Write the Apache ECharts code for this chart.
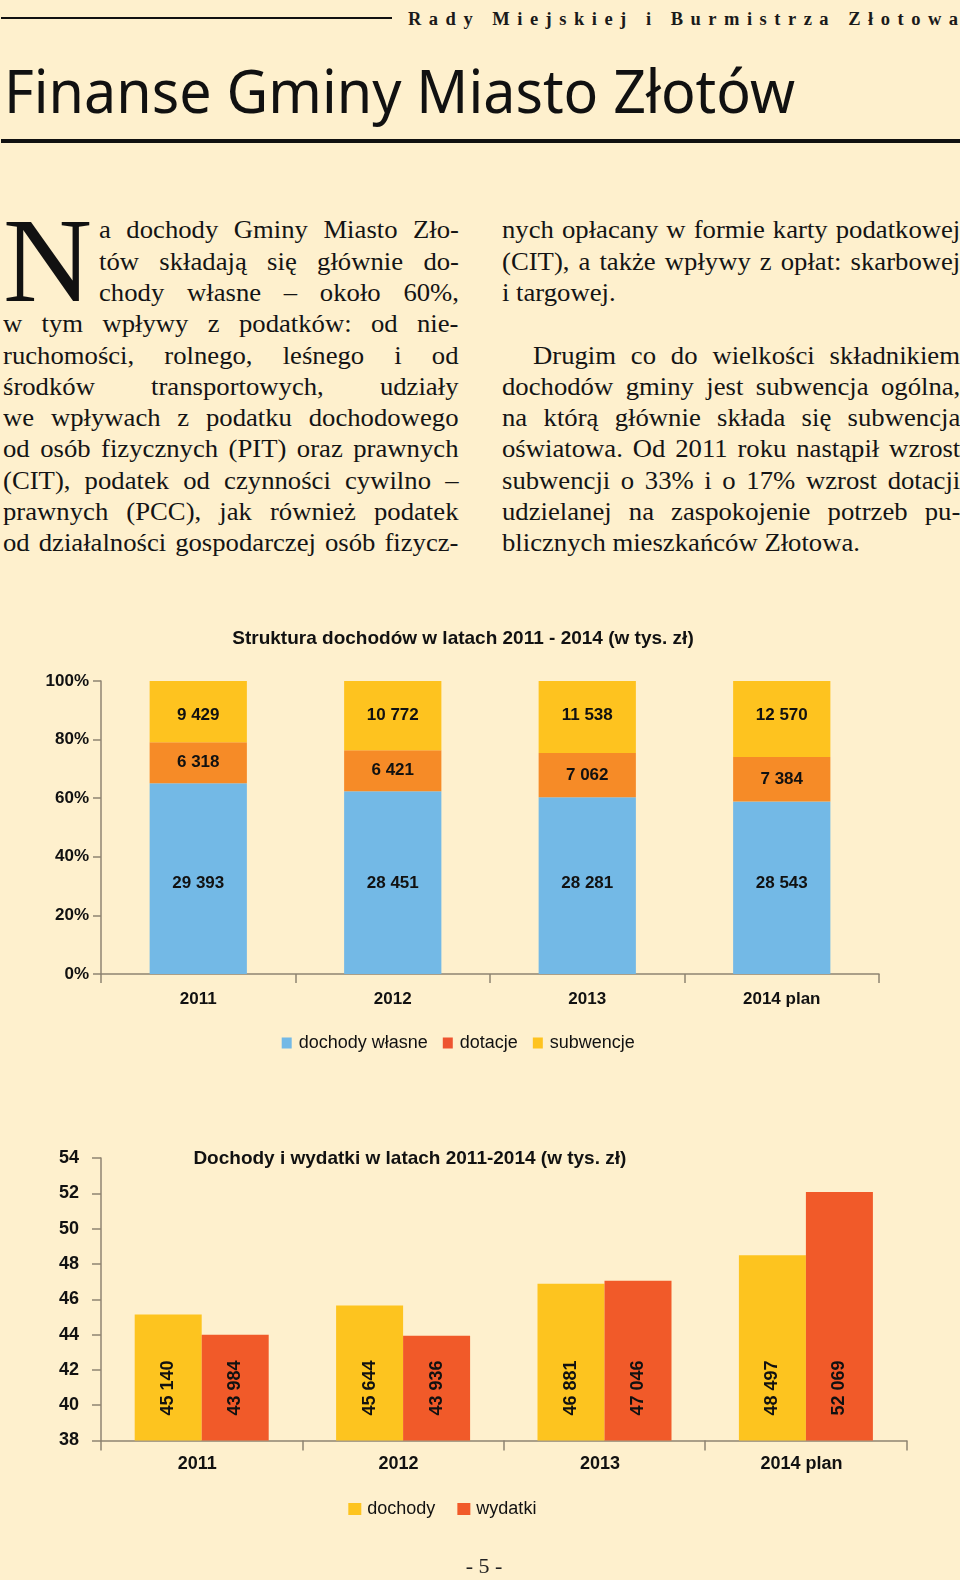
<!DOCTYPE html>
<html>
<head>
<meta charset="utf-8">
<script src="https://cdn.jsdelivr.net/npm/echarts@6/dist/echarts.min.js"></script>
<style>
  html, body { margin:0; padding:0; }
  body { width:960px; height:1580px; background:#FEF0CD; position:relative; overflow:hidden; }
  .abs { position:absolute; }
  .hline { position:absolute; background:#111; }
  .ln { position:absolute; font-family:"Liberation Serif","Times New Roman",serif; font-size:26px; line-height:31.3px; height:31.3px; color:#141414; text-align:justify; text-align-last:justify; transform-origin:0 0; }
  .ln.last { text-align:left; text-align-last:left; }
  .probe { position:absolute; visibility:hidden; white-space:nowrap; font-family:"Liberation Serif","Times New Roman",serif; font-size:26px; }
  #hdr { font-family:"Liberation Serif",serif; font-weight:bold; font-size:18.5px; line-height:18px; color:#1a1a1a; white-space:nowrap; }
  #ttl { font-family:"Noto Sans","Open Sans",sans-serif; font-size:60px; line-height:60px; color:#111; white-space:nowrap; transform-origin:0 0; }
  #cap { font-family:"Liberation Serif",serif; font-size:121px; line-height:121px; color:#111; transform-origin:0 0; transform:scaleX(1.02); }
  #pg { font-family:"Liberation Serif",serif; font-size:22px; line-height:22px; color:#222; width:960px; left:4px; text-align:center; }
  .chart { position:absolute; left:0; width:960px; height:480px; }
</style>
</head>
<body>
<div class="hline" style="left:1px;top:16.5px;width:391px;height:2.6px;"></div>
<div id="hdr" class="abs" style="left:408px;top:10px;">Rady Miejskiej i Burmistrza Złotowa</div>
<div id="ttl" class="abs" style="left:4px;top:60px;">Finanse Gminy Miasto Złotów</div>
<div class="hline" style="left:1px;top:139.3px;width:959px;height:3.3px;"></div>

<div id="cap" class="abs" style="left:3px;top:199.5px;">N</div>
<div id="textBlock"></div>

<div id="c1" class="chart" style="top:600px;"></div>
<div id="c2" class="chart" style="top:1100px;"></div>
<div id="pg" class="abs" style="top:1555px;">- 5 -</div>

<script>
// ---------- page text ----------
const leftLines = [
  "a dochody Gminy Miasto Zło-",
  "tów składają się głównie do-",
  "chody własne – około 60%,",
  "w tym wpływy z podatków: od nie-",
  "ruchomości, rolnego, leśnego i od",
  "środków transportowych, udziały",
  "we wpływach z podatku dochodowego",
  "od osób fizycznych (PIT) oraz prawnych",
  "(CIT), podatek od czynności cywilno –",
  "prawnych (PCC), jak również podatek",
  "od działalności gospodarczej osób fizycz-"
];
const rightLines = [
  "nych opłacany w formie karty podatkowej",
  "(CIT), a także wpływy z opłat: skarbowej",
  "i targowej.",
  "",
  "Drugim co do wielkości składnikiem",
  "dochodów gminy jest subwencja ogólna,",
  "na którą głównie składa się subwencja",
  "oświatowa. Od 2011 roku nastąpił wzrost",
  "subwencji o 33% i o 17% wzrost dotacji",
  "udzielanej na zaspokojenie potrzeb pu-",
  "blicznych mieszkańców Złotowa."
];
const rightLast = [2, 10];

// ---------- chart 1 data ----------
const years = ["2011", "2012", "2013", "2014 plan"];
const dochodyWlasne = [29393, 28451, 28281, 28543];
const dotacje = [6318, 6421, 7062, 7384];
const subwencje = [9429, 10772, 11538, 12570];
const pctTicks = [0, 20, 40, 60, 80, 100];

// ---------- chart 2 data ----------
const dochody = [45140, 45644, 46881, 48497];
const wydatki = [43984, 43936, 47046, 52069];
const mlnTicks = [38, 40, 42, 44, 46, 48, 50, 52, 54];

// build text lines
(function(){
  const tb = document.getElementById('textBlock');
  const base0 = 238.7, step = 31.3, off = 24.4;
  const specs = [];
  leftLines.forEach((t, i) => {
    const left = i < 3 ? 98.5 : 3;
    specs.push({t, left, right: 458.5, i, last: false});
  });
  rightLines.forEach((t, i) => {
    if (!t) return;
    const left = i === 4 ? 533 : 501.7;
    specs.push({t, left, right: 960, i, last: rightLast.includes(i)});
  });
  const probe = document.createElement('span');
  probe.className = 'probe';
  document.body.appendChild(probe);
  let s = 1.08;
  specs.forEach(sp => {
    probe.textContent = sp.t;
    const w = probe.getBoundingClientRect().width;
    const avail = sp.right - sp.left;
    s = Math.min(s, 0.985 * avail / w);
  });
  probe.remove();
  specs.forEach(sp => {
    const d = document.createElement('div');
    d.className = 'ln' + (sp.last ? ' last' : '');
    d.style.left = sp.left + 'px';
    d.style.width = ((sp.right - sp.left) / s) + 'px';
    d.style.top = (base0 + step * sp.i - off) + 'px';
    d.style.transform = 'scaleX(' + s + ')';
    d.textContent = sp.t;
    tb.appendChild(d);
  });
  const h = document.getElementById('hdr');
  const w0 = h.getBoundingClientRect().width;
  const n = h.textContent.length;
  h.style.letterSpacing = ((550 - w0) / (n - 1)) + 'px';
  const tt = document.getElementById('ttl');
  const tw = tt.getBoundingClientRect().width;
  tt.style.transform = 'scaleX(' + (791 / tw) + ')';
})();

const fmt = v => String(v).replace(/\B(?=(\d{3})+(?!\d))/g, ' ');
const FONT = '"Liberation Sans", Arial, sans-serif';
const AXIS = '#8F8472';
const TXT = '#111';

// ---------- chart 1 ----------
const totals = years.map((_, i) => dochodyWlasne[i] + dotacje[i] + subwencje[i]);
const raw1 = [dochodyWlasne, dotacje, subwencje];
const names1 = ['dochody własne', 'dotacje', 'subwencje'];
const colors1 = ['#73B9E6', '#F68B27', '#FEC31F'];
const legendColors1 = ['#73B9E6', '#EE5430', '#FEC31F'];
const labelPos1 = [
  {position: 'insideBottom', distance: 82},
  {position: 'inside'},
  {position: 'insideTop', distance: 26}
];

const c1 = echarts.init(document.getElementById('c1'), null, {renderer: 'canvas'});
c1.setOption({
  animation: false,
  backgroundColor: 'transparent',
  textStyle: {fontFamily: FONT},
  grid: {left: 101, right: 81, top: 81, bottom: 106, containLabel: false},
  graphic: [{
    type: 'text', x: 463, y: 39,
    style: {text: 'Struktura dochodów w latach 2011 - 2014 (w tys. zł)', font: 'bold 19px ' + FONT, fill: TXT, align: 'center', verticalAlign: 'middle'}
  }],
  legend: {
    left: 281.7, top: 434, padding: 0, itemGap: 15, itemWidth: 10, itemHeight: 11, icon: 'rect',
    textStyle: {fontSize: 18, color: TXT, fontFamily: FONT, padding: [0, 0, 0, 2]},
    data: names1.map((n, i) => ({name: n, itemStyle: {color: legendColors1[i]}}))
  },
  xAxis: {
    type: 'category', data: years,
    axisLine: {lineStyle: {color: AXIS, width: 1.5}},
    axisTick: {show: true, length: 9, lineStyle: {color: AXIS, width: 1.5}},
    axisLabel: {fontSize: 17, fontWeight: 'bold', color: TXT, margin: 17, fontFamily: FONT}
  },
  yAxis: {
    type: 'value', min: pctTicks[0], max: pctTicks[pctTicks.length - 1], interval: 20,
    axisLine: {show: true, lineStyle: {color: AXIS, width: 1.5}},
    axisTick: {show: true, length: 8, lineStyle: {color: AXIS, width: 1.5}},
    splitLine: {show: false},
    axisLabel: {formatter: '{value}%', fontSize: 17, fontWeight: 'bold', color: TXT, margin: 12, fontFamily: FONT}
  },
  series: raw1.map((arr, s) => ({
    name: names1[s], type: 'bar', stack: 'total', barWidth: '50%',
    itemStyle: {color: colors1[s]},
    data: arr.map((v, i) => v / totals[i] * 100),
    label: Object.assign({
      show: true, fontSize: 17, fontWeight: 'bold', color: TXT, fontFamily: FONT,
      formatter: p => fmt(raw1[s][p.dataIndex])
    }, labelPos1[s])
  }))
});

// ---------- chart 2 ----------
const c2 = echarts.init(document.getElementById('c2'), null, {renderer: 'canvas'});
const raw2 = [dochody, wydatki];
const names2 = ['dochody', 'wydatki'];
const colors2 = ['#FDC41F', '#F15A29'];
c2.setOption({
  animation: false,
  backgroundColor: 'transparent',
  textStyle: {fontFamily: FONT},
  grid: {left: 101, right: 53.4, top: 58, bottom: 139.5, containLabel: false},
  graphic: [{
    type: 'text', x: 193.4, y: 58.5,
    style: {text: 'Dochody i wydatki w latach 2011-2014 (w tys. zł)', font: 'bold 19px ' + FONT, fill: TXT, align: 'left', verticalAlign: 'middle'}
  }],
  legend: {
    left: 348.3, top: 400, padding: 0, itemGap: 22, itemWidth: 13, itemHeight: 12, icon: 'rect',
    textStyle: {fontSize: 18, color: TXT, fontFamily: FONT, padding: [0, 0, 0, 1]},
    data: names2
  },
  xAxis: {
    type: 'category', data: years,
    axisLine: {lineStyle: {color: AXIS, width: 1.5}},
    axisTick: {show: true, length: 10, lineStyle: {color: AXIS, width: 1.5}},
    axisLabel: {fontSize: 18, fontWeight: 'bold', color: TXT, margin: 15, fontFamily: FONT, padding: [0, 9, 0, 0]}
  },
  yAxis: {
    type: 'value', min: mlnTicks[0], max: mlnTicks[mlnTicks.length - 1], interval: 2,
    axisLine: {show: true, lineStyle: {color: AXIS, width: 1.5}},
    axisTick: {show: true, length: 9, lineStyle: {color: AXIS, width: 1.5}},
    splitLine: {show: false},
    axisLabel: {fontSize: 18, fontWeight: 'bold', color: TXT, margin: 22, fontFamily: FONT}
  },
  series: raw2.map((arr, s) => ({
    name: names2[s], type: 'bar', barWidth: 67, barGap: '0%',
    itemStyle: {color: colors2[s]},
    data: arr.map(v => v / 1000),
    label: {
      show: true, position: 'insideBottom', distance: 25, rotate: 90, align: 'left', verticalAlign: 'middle',
      fontSize: 18, fontWeight: 'bold', color: TXT, fontFamily: FONT,
      formatter: p => fmt(raw2[s][p.dataIndex])
    }
  }))
});
</script>
</body>
</html>
